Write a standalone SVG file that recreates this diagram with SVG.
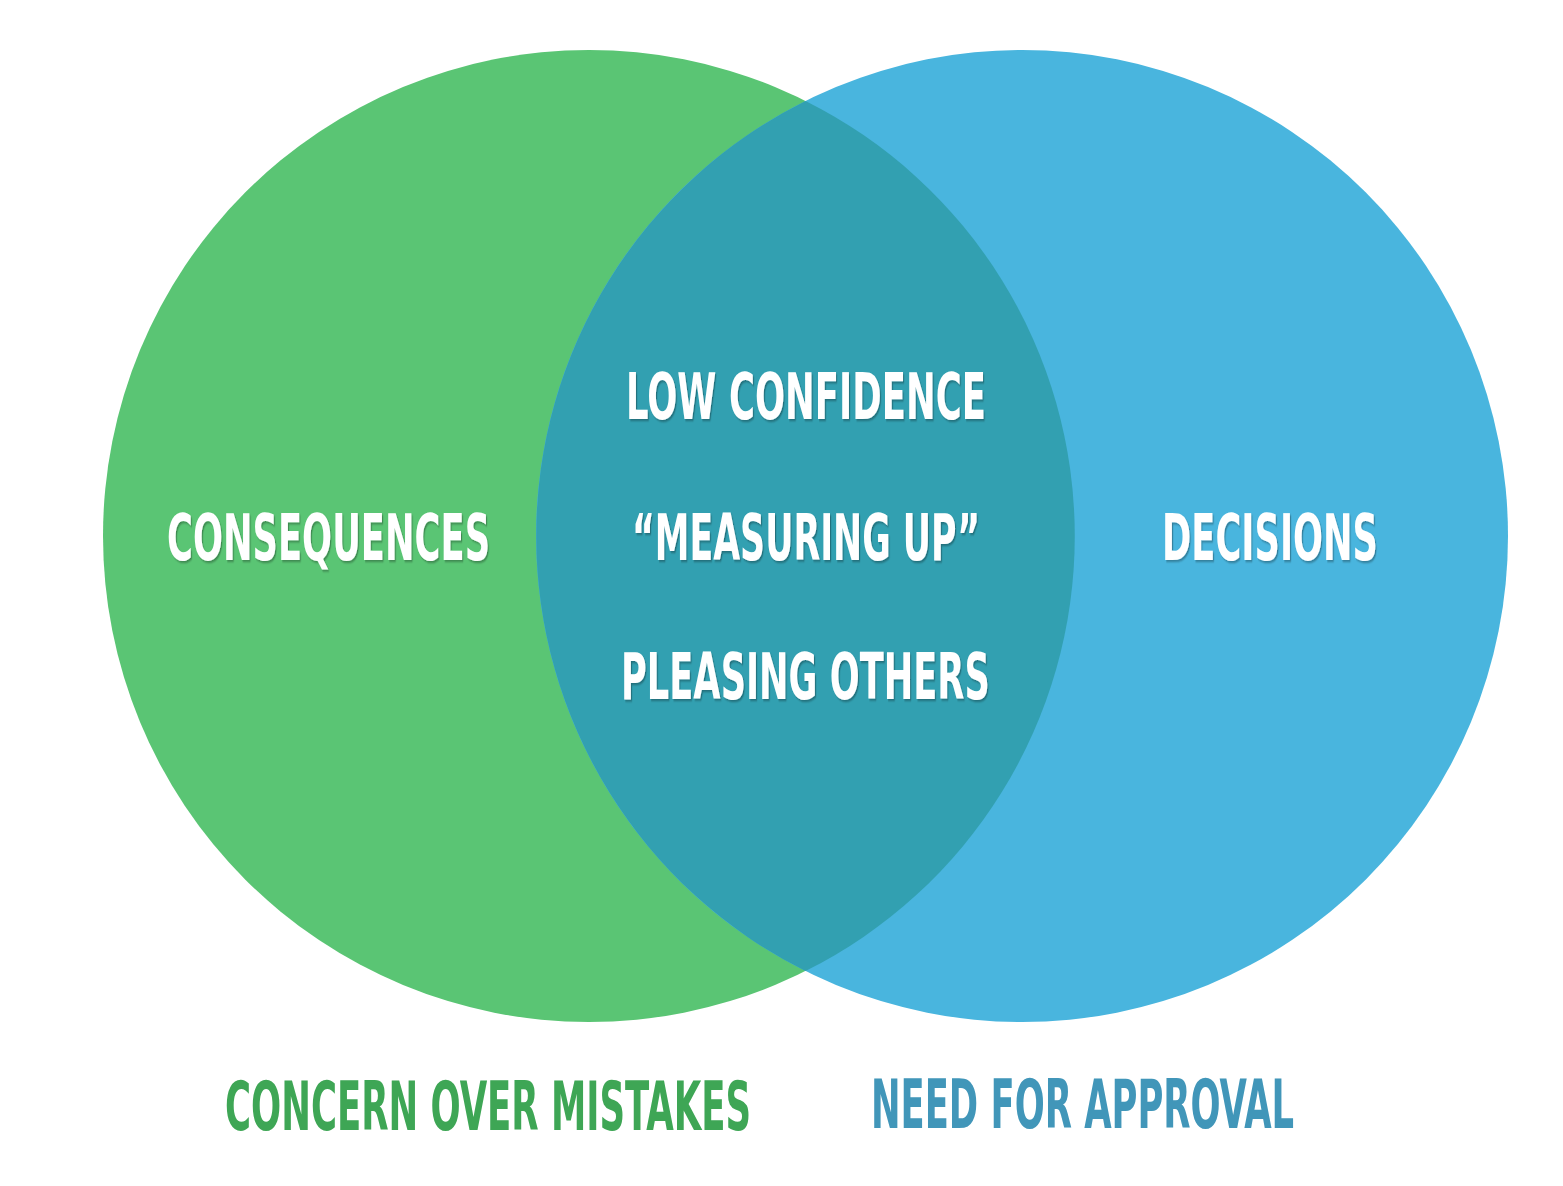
<svg xmlns="http://www.w3.org/2000/svg" width="1563" height="1186" viewBox="0 0 1563 1186">
  <defs>
    <filter id="shadow" x="-5%" y="-20%" width="110%" height="140%">
      <feDropShadow dx="2" dy="2" stdDeviation="1.2" flood-color="#000" flood-opacity="0.3"/>
    </filter>
    <style>
      .lbl { font-family: "DejaVu Sans Condensed", "DejaVu Sans", "Liberation Sans", sans-serif; font-weight: bold; font-stretch: condensed; }
      .in { fill: #ffffff; font-size: 64px; filter: url(#shadow); }
      .cap { font-size: 67px; }
    </style>
  </defs>
  <rect width="1563" height="1186" fill="#ffffff"/>

  <!-- two sets and their shared lens -->
  <g id="set-mistakes">
    <circle cx="589" cy="536" r="486" fill="#5ac574"/>
  </g>
  <g id="set-approval">
    <circle cx="1022" cy="536" r="486" fill="#49b5de"/>
  </g>
  <g id="overlap">
    <path d="M805.5 101 A486 486 0 0 1 805.5 971 A486 486 0 0 1 805.5 101 Z" fill="#32a0b1"/>
  </g>

  <!-- labels inside the circles (glyphs narrowed horizontally) -->
  <g id="label-consequences" transform="translate(167 560) scale(0.595 1)">
    <text class="lbl in" x="0" y="0" textLength="543" lengthAdjust="spacingAndGlyphs">CONSEQUENCES</text>
  </g>
  <g id="label-decisions" transform="translate(1162 560) scale(0.595 1)">
    <text class="lbl in" x="0" y="0" textLength="363" lengthAdjust="spacingAndGlyphs">DECISIONS</text>
  </g>
  <g id="label-shared">
    <g transform="translate(626 419) scale(0.595 1)">
      <text class="lbl in" x="0" y="0" textLength="605" lengthAdjust="spacingAndGlyphs">LOW CONFIDENCE</text>
    </g>
    <g transform="translate(632 560) scale(0.595 1)">
      <text class="lbl in" x="0" y="0" textLength="585" lengthAdjust="spacingAndGlyphs">“MEASURING UP”</text>
    </g>
    <g transform="translate(621 699) scale(0.595 1)">
      <text class="lbl in" x="0" y="0" textLength="620" lengthAdjust="spacingAndGlyphs">PLEASING OTHERS</text>
    </g>
  </g>

  <!-- set captions below -->
  <g id="caption-mistakes" transform="translate(225 1130) scale(0.595 1)">
    <text class="lbl cap" x="0" y="0" fill="#3ea655" textLength="884" lengthAdjust="spacingAndGlyphs">CONCERN OVER MISTAKES</text>
  </g>
  <g id="caption-approval" transform="translate(871 1128) scale(0.595 1)">
    <text class="lbl cap" x="0" y="0" fill="#4196b9" textLength="711" lengthAdjust="spacingAndGlyphs">NEED FOR APPROVAL</text>
  </g>
</svg>
